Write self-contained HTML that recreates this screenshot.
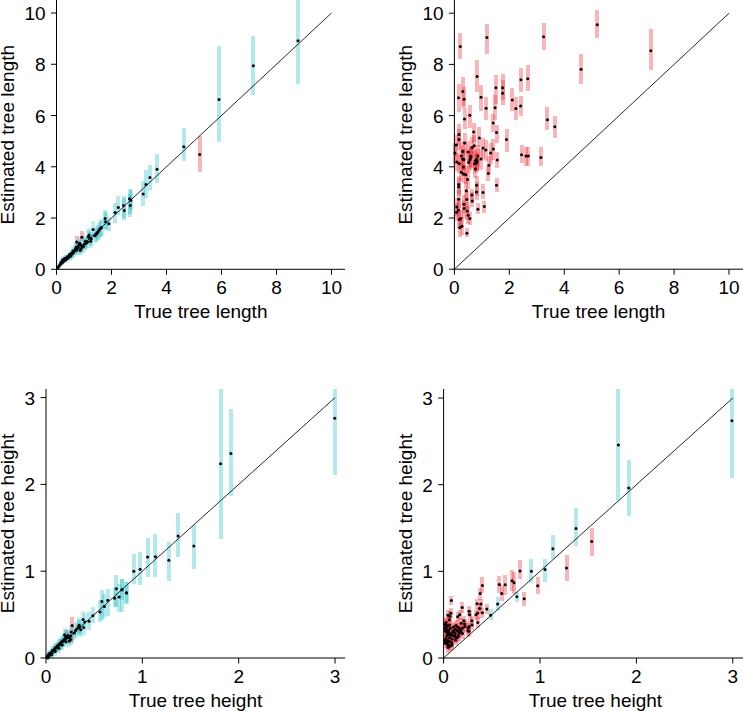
<!DOCTYPE html>
<html><head><meta charset="utf-8"><title>Tree length and height estimates</title>
<style>html,body{margin:0;padding:0;background:#fff;}svg{display:block;}text{font-family:"Liberation Sans",sans-serif;}</style>
</head><body>
<svg width="743" height="711" viewBox="0 0 743 711">
<rect width="743" height="711" fill="#fff"/>
<g shape-rendering="crispEdges">
<rect x="296.00" y="0.00" width="4" height="84.40" fill="rgba(0,182,192,0.30)"/>
<rect x="251.30" y="35.90" width="4" height="58.60" fill="rgba(0,182,192,0.30)"/>
<rect x="217.00" y="45.50" width="4" height="96.70" fill="rgba(0,182,192,0.30)"/>
<rect x="181.80" y="128.30" width="4" height="32.60" fill="rgba(0,182,192,0.30)"/>
<rect x="197.70" y="136.00" width="4" height="35.50" fill="rgba(236,30,40,0.33)"/>
<rect x="155.00" y="153.80" width="4" height="29.50" fill="rgba(0,182,192,0.30)"/>
<rect x="148.00" y="165.20" width="4" height="24.50" fill="rgba(0,182,192,0.30)"/>
<rect x="144.00" y="170.30" width="4" height="27.80" fill="rgba(0,182,192,0.30)"/>
<rect x="141.20" y="180.80" width="4" height="25.30" fill="rgba(0,182,192,0.30)"/>
<rect x="127.50" y="188.90" width="4" height="27.80" fill="rgba(0,182,192,0.30)"/>
<rect x="128.80" y="190.00" width="4" height="20.00" fill="rgba(0,182,192,0.30)"/>
<rect x="128.20" y="194.00" width="4" height="20.00" fill="rgba(0,182,192,0.30)"/>
<rect x="121.50" y="195.60" width="4" height="22.80" fill="rgba(0,182,192,0.30)"/>
<rect x="122.30" y="198.00" width="4" height="22.00" fill="rgba(0,182,192,0.30)"/>
<rect x="116.40" y="195.90" width="4" height="19.10" fill="rgba(0,182,192,0.30)"/>
<rect x="113.10" y="203.20" width="4" height="19.40" fill="rgba(0,182,192,0.30)"/>
<rect x="103.10" y="209.90" width="4" height="18.60" fill="rgba(0,182,192,0.30)"/>
<rect x="103.50" y="212.00" width="4" height="18.00" fill="rgba(0,182,192,0.30)"/>
<rect x="106.80" y="216.70" width="4" height="14.30" fill="rgba(0,182,192,0.30)"/>
<rect x="74.70" y="236.20" width="4" height="9.30" fill="rgba(236,30,40,0.33)"/>
<rect x="79.80" y="230.70" width="4" height="10.50" fill="rgba(236,30,40,0.33)"/>
<rect x="91.00" y="221.08" width="4" height="16.64" fill="rgba(0,182,192,0.22)"/>
<rect x="97.80" y="220.61" width="4" height="16.78" fill="rgba(0,182,192,0.22)"/>
<rect x="96.80" y="222.60" width="4" height="16.20" fill="rgba(0,182,192,0.22)"/>
<rect x="95.70" y="224.59" width="4" height="15.62" fill="rgba(0,182,192,0.22)"/>
<rect x="94.70" y="226.11" width="4" height="15.18" fill="rgba(0,182,192,0.22)"/>
<rect x="93.70" y="227.75" width="4" height="14.70" fill="rgba(0,182,192,0.22)"/>
<rect x="92.70" y="228.57" width="4" height="14.47" fill="rgba(0,182,192,0.22)"/>
<rect x="87.00" y="227.75" width="4" height="14.70" fill="rgba(0,182,192,0.22)"/>
<rect x="86.30" y="229.74" width="4" height="14.13" fill="rgba(0,182,192,0.22)"/>
<rect x="87.70" y="231.26" width="4" height="13.68" fill="rgba(0,182,192,0.22)"/>
<rect x="89.30" y="232.08" width="4" height="13.45" fill="rgba(0,182,192,0.22)"/>
<rect x="88.70" y="234.89" width="4" height="12.63" fill="rgba(0,182,192,0.22)"/>
<rect x="85.60" y="235.59" width="4" height="12.43" fill="rgba(0,182,192,0.22)"/>
<rect x="84.30" y="237.23" width="4" height="11.95" fill="rgba(0,182,192,0.22)"/>
<rect x="83.30" y="234.89" width="4" height="12.63" fill="rgba(0,182,192,0.22)"/>
<rect x="77.60" y="237.23" width="4" height="11.95" fill="rgba(0,182,192,0.22)"/>
<rect x="76.90" y="239.57" width="4" height="11.27" fill="rgba(0,182,192,0.22)"/>
<rect x="81.60" y="240.74" width="4" height="10.93" fill="rgba(0,182,192,0.22)"/>
<rect x="80.30" y="241.91" width="4" height="10.59" fill="rgba(0,182,192,0.22)"/>
<rect x="78.20" y="245.88" width="4" height="9.43" fill="rgba(0,182,192,0.22)"/>
<rect x="78.60" y="244.25" width="4" height="9.91" fill="rgba(0,182,192,0.22)"/>
<rect x="74.20" y="241.91" width="4" height="10.59" fill="rgba(0,182,192,0.22)"/>
<rect x="74.90" y="245.06" width="4" height="9.67" fill="rgba(0,182,192,0.22)"/>
<rect x="72.90" y="245.88" width="4" height="9.43" fill="rgba(0,182,192,0.22)"/>
<rect x="71.50" y="248.22" width="4" height="8.75" fill="rgba(0,182,192,0.22)"/>
<rect x="70.20" y="249.74" width="4" height="8.31" fill="rgba(0,182,192,0.22)"/>
<rect x="68.80" y="252.20" width="4" height="7.60" fill="rgba(0,182,192,0.22)"/>
<rect x="67.50" y="252.90" width="4" height="7.39" fill="rgba(0,182,192,0.22)"/>
<rect x="66.10" y="254.54" width="4" height="6.92" fill="rgba(0,182,192,0.22)"/>
<rect x="64.40" y="256.06" width="4" height="6.48" fill="rgba(0,182,192,0.22)"/>
<rect x="63.10" y="256.88" width="4" height="6.24" fill="rgba(0,182,192,0.22)"/>
<rect x="61.40" y="258.40" width="4" height="5.80" fill="rgba(0,182,192,0.22)"/>
<rect x="60.10" y="260.04" width="4" height="5.32" fill="rgba(0,182,192,0.22)"/>
<rect x="58.70" y="261.56" width="4" height="4.88" fill="rgba(0,182,192,0.22)"/>
<rect x="57.40" y="263.20" width="4" height="4.40" fill="rgba(0,182,192,0.22)"/>
<rect x="56.40" y="264.72" width="4" height="3.96" fill="rgba(0,182,192,0.22)"/>
<rect x="55.70" y="266.36" width="4" height="2.94" fill="rgba(0,182,192,0.22)"/>
<rect x="65.50" y="252.90" width="4" height="7.39" fill="rgba(0,182,192,0.22)"/>
<rect x="64.10" y="254.54" width="4" height="6.92" fill="rgba(0,182,192,0.22)"/>
<rect x="62.80" y="255.24" width="4" height="6.71" fill="rgba(0,182,192,0.22)"/>
<rect x="67.50" y="250.56" width="4" height="8.07" fill="rgba(0,182,192,0.22)"/>
<rect x="69.50" y="249.04" width="4" height="8.52" fill="rgba(0,182,192,0.22)"/>
<rect x="60.10" y="257.70" width="4" height="6.00" fill="rgba(0,182,192,0.22)"/>
<rect x="58.70" y="260.04" width="4" height="5.32" fill="rgba(0,182,192,0.22)"/>
<rect x="61.40" y="256.06" width="4" height="6.48" fill="rgba(0,182,192,0.22)"/>
<rect x="71.00" y="246.35" width="4" height="9.30" fill="rgba(0,182,192,0.22)"/>
<rect x="73.50" y="244.01" width="4" height="9.98" fill="rgba(0,182,192,0.22)"/>
<rect x="75.80" y="242.26" width="4" height="10.49" fill="rgba(0,182,192,0.22)"/>
<rect x="79.00" y="239.33" width="4" height="11.34" fill="rgba(0,182,192,0.22)"/>
<rect x="82.50" y="238.16" width="4" height="11.68" fill="rgba(0,182,192,0.22)"/>
<rect x="99.50" y="218.86" width="4" height="17.29" fill="rgba(0,182,192,0.22)"/>
<rect x="98.70" y="219.79" width="4" height="17.02" fill="rgba(0,182,192,0.22)"/>
<rect x="595.30" y="9.50" width="4" height="28.80" fill="rgba(236,30,40,0.33)"/>
<rect x="648.80" y="29.40" width="4" height="41.00" fill="rgba(236,30,40,0.33)"/>
<rect x="579.10" y="53.60" width="4" height="30.10" fill="rgba(236,30,40,0.33)"/>
<rect x="541.60" y="23.00" width="4" height="27.00" fill="rgba(236,30,40,0.33)"/>
<rect x="484.90" y="23.60" width="4" height="30.00" fill="rgba(236,30,40,0.33)"/>
<rect x="458.30" y="33.30" width="4" height="25.20" fill="rgba(236,30,40,0.33)"/>
<rect x="475.10" y="60.40" width="4" height="31.50" fill="rgba(236,30,40,0.33)"/>
<rect x="518.90" y="68.00" width="4" height="23.60" fill="rgba(236,30,40,0.33)"/>
<rect x="525.70" y="64.60" width="4" height="26.50" fill="rgba(236,30,40,0.33)"/>
<rect x="545.40" y="107.30" width="4" height="23.10" fill="rgba(236,30,40,0.33)"/>
<rect x="552.80" y="115.50" width="4" height="22.80" fill="rgba(236,30,40,0.33)"/>
<rect x="538.90" y="146.70" width="4" height="19.70" fill="rgba(236,30,40,0.33)"/>
<rect x="519.50" y="144.90" width="4" height="18.50" fill="rgba(236,30,40,0.33)"/>
<rect x="524.00" y="146.60" width="4" height="19.10" fill="rgba(236,30,40,0.33)"/>
<rect x="526.30" y="146.60" width="4" height="19.10" fill="rgba(236,30,40,0.33)"/>
<rect x="493.90" y="75.00" width="4" height="29.00" fill="rgba(236,30,40,0.33)"/>
<rect x="493.10" y="95.00" width="4" height="24.80" fill="rgba(236,30,40,0.33)"/>
<rect x="500.60" y="74.20" width="4" height="25.80" fill="rgba(236,30,40,0.33)"/>
<rect x="500.60" y="80.00" width="4" height="24.60" fill="rgba(236,30,40,0.33)"/>
<rect x="510.30" y="88.30" width="4" height="22.50" fill="rgba(236,30,40,0.33)"/>
<rect x="513.90" y="97.30" width="4" height="22.50" fill="rgba(236,30,40,0.33)"/>
<rect x="518.60" y="95.60" width="4" height="20.80" fill="rgba(236,30,40,0.33)"/>
<rect x="456.50" y="84.00" width="4" height="28.40" fill="rgba(236,30,40,0.33)"/>
<rect x="460.80" y="77.00" width="4" height="29.00" fill="rgba(236,30,40,0.33)"/>
<rect x="462.10" y="87.10" width="4" height="21.40" fill="rgba(236,30,40,0.33)"/>
<rect x="462.50" y="109.00" width="4" height="19.80" fill="rgba(236,30,40,0.33)"/>
<rect x="467.80" y="105.10" width="4" height="22.50" fill="rgba(236,30,40,0.33)"/>
<rect x="479.00" y="84.90" width="4" height="25.90" fill="rgba(236,30,40,0.33)"/>
<rect x="484.10" y="97.30" width="4" height="23.00" fill="rgba(236,30,40,0.33)"/>
<rect x="491.20" y="114.10" width="4" height="17.90" fill="rgba(236,30,40,0.33)"/>
<rect x="494.50" y="124.60" width="4" height="18.00" fill="rgba(236,30,40,0.33)"/>
<rect x="471.70" y="123.10" width="4" height="18.40" fill="rgba(236,30,40,0.33)"/>
<rect x="477.40" y="126.90" width="4" height="20.20" fill="rgba(236,30,40,0.33)"/>
<rect x="504.50" y="128.60" width="4" height="23.00" fill="rgba(236,30,40,0.33)"/>
<rect x="495.30" y="152.20" width="4" height="15.80" fill="rgba(236,30,40,0.33)"/>
<rect x="486.30" y="166.00" width="4" height="15.00" fill="rgba(236,30,40,0.33)"/>
<rect x="494.50" y="178.40" width="4" height="13.50" fill="rgba(236,30,40,0.33)"/>
<rect x="474.60" y="176.00" width="4" height="20.00" fill="rgba(236,30,40,0.33)"/>
<rect x="474.50" y="182.00" width="4" height="18.00" fill="rgba(236,30,40,0.33)"/>
<rect x="481.00" y="184.10" width="4" height="14.60" fill="rgba(236,30,40,0.33)"/>
<rect x="469.80" y="188.60" width="4" height="14.40" fill="rgba(236,30,40,0.33)"/>
<rect x="470.20" y="192.00" width="4" height="15.10" fill="rgba(236,30,40,0.33)"/>
<rect x="482.40" y="200.90" width="4" height="11.90" fill="rgba(236,30,40,0.33)"/>
<rect x="475.90" y="203.20" width="4" height="11.20" fill="rgba(236,30,40,0.33)"/>
<rect x="467.80" y="212.00" width="4" height="12.60" fill="rgba(236,30,40,0.33)"/>
<rect x="464.90" y="228.00" width="4" height="9.00" fill="rgba(236,30,40,0.33)"/>
<rect x="457.00" y="123.90" width="4" height="21.00" fill="rgba(236,30,40,0.33)"/>
<rect x="457.00" y="129.00" width="4" height="21.00" fill="rgba(236,30,40,0.33)"/>
<rect x="462.60" y="132.60" width="4" height="21.00" fill="rgba(236,30,40,0.33)"/>
<rect x="454.30" y="134.60" width="4" height="21.00" fill="rgba(236,30,40,0.33)"/>
<rect x="472.30" y="135.30" width="4" height="21.00" fill="rgba(236,30,40,0.33)"/>
<rect x="470.10" y="136.90" width="4" height="21.00" fill="rgba(236,30,40,0.33)"/>
<rect x="481.00" y="137.50" width="4" height="21.00" fill="rgba(236,30,40,0.33)"/>
<rect x="483.80" y="139.50" width="4" height="21.00" fill="rgba(236,30,40,0.33)"/>
<rect x="491.40" y="138.60" width="4" height="21.00" fill="rgba(236,30,40,0.33)"/>
<rect x="488.60" y="142.60" width="4" height="21.00" fill="rgba(236,30,40,0.33)"/>
<rect x="460.70" y="140.90" width="4" height="21.00" fill="rgba(236,30,40,0.33)"/>
<rect x="466.10" y="141.40" width="4" height="21.00" fill="rgba(236,30,40,0.33)"/>
<rect x="452.80" y="142.60" width="4" height="21.00" fill="rgba(236,30,40,0.33)"/>
<rect x="459.30" y="145.40" width="4" height="21.00" fill="rgba(236,30,40,0.33)"/>
<rect x="468.60" y="145.70" width="4" height="21.00" fill="rgba(236,30,40,0.33)"/>
<rect x="468.90" y="147.10" width="4" height="21.00" fill="rgba(236,30,40,0.33)"/>
<rect x="475.90" y="145.40" width="4" height="21.00" fill="rgba(236,30,40,0.33)"/>
<rect x="460.70" y="148.50" width="4" height="21.00" fill="rgba(236,30,40,0.33)"/>
<rect x="461.80" y="149.00" width="4" height="21.00" fill="rgba(236,30,40,0.33)"/>
<rect x="468.00" y="149.30" width="4" height="21.00" fill="rgba(236,30,40,0.33)"/>
<rect x="474.50" y="148.80" width="4" height="21.00" fill="rgba(236,30,40,0.33)"/>
<rect x="473.40" y="151.40" width="4" height="18.00" fill="rgba(236,30,40,0.33)"/>
<rect x="475.10" y="152.50" width="4" height="18.00" fill="rgba(236,30,40,0.33)"/>
<rect x="479.00" y="148.50" width="4" height="21.00" fill="rgba(236,30,40,0.33)"/>
<rect x="466.60" y="153.60" width="4" height="18.00" fill="rgba(236,30,40,0.33)"/>
<rect x="454.80" y="153.10" width="4" height="18.00" fill="rgba(236,30,40,0.33)"/>
<rect x="457.10" y="154.50" width="4" height="18.00" fill="rgba(236,30,40,0.33)"/>
<rect x="472.50" y="154.80" width="4" height="18.00" fill="rgba(236,30,40,0.33)"/>
<rect x="474.50" y="153.90" width="4" height="18.00" fill="rgba(236,30,40,0.33)"/>
<rect x="486.90" y="156.20" width="4" height="18.00" fill="rgba(236,30,40,0.33)"/>
<rect x="461.30" y="158.10" width="4" height="18.00" fill="rgba(236,30,40,0.33)"/>
<rect x="473.40" y="160.10" width="4" height="18.00" fill="rgba(236,30,40,0.33)"/>
<rect x="459.30" y="163.30" width="4" height="18.00" fill="rgba(236,30,40,0.33)"/>
<rect x="461.60" y="164.90" width="4" height="18.00" fill="rgba(236,30,40,0.33)"/>
<rect x="463.80" y="165.70" width="4" height="18.00" fill="rgba(236,30,40,0.33)"/>
<rect x="465.50" y="170.60" width="4" height="18.00" fill="rgba(236,30,40,0.33)"/>
<rect x="456.70" y="175.60" width="4" height="18.00" fill="rgba(236,30,40,0.33)"/>
<rect x="456.70" y="177.90" width="4" height="18.00" fill="rgba(236,30,40,0.33)"/>
<rect x="464.40" y="181.80" width="4" height="18.00" fill="rgba(236,30,40,0.33)"/>
<rect x="456.70" y="190.30" width="4" height="18.00" fill="rgba(236,30,40,0.33)"/>
<rect x="464.90" y="190.50" width="4" height="18.00" fill="rgba(236,30,40,0.33)"/>
<rect x="461.90" y="195.30" width="4" height="18.00" fill="rgba(236,30,40,0.33)"/>
<rect x="462.10" y="199.50" width="4" height="18.00" fill="rgba(236,30,40,0.33)"/>
<rect x="454.80" y="198.10" width="4" height="18.00" fill="rgba(236,30,40,0.33)"/>
<rect x="456.50" y="200.90" width="4" height="18.00" fill="rgba(236,30,40,0.33)"/>
<rect x="454.50" y="203.20" width="4" height="18.00" fill="rgba(236,30,40,0.33)"/>
<rect x="465.30" y="202.10" width="4" height="18.00" fill="rgba(236,30,40,0.33)"/>
<rect x="466.10" y="206.20" width="4" height="18.00" fill="rgba(236,30,40,0.33)"/>
<rect x="458.80" y="209.60" width="4" height="18.00" fill="rgba(236,30,40,0.33)"/>
<rect x="457.40" y="210.50" width="4" height="18.00" fill="rgba(236,30,40,0.33)"/>
<rect x="459.90" y="217.30" width="4" height="18.00" fill="rgba(236,30,40,0.33)"/>
<rect x="457.90" y="218.60" width="4" height="18.00" fill="rgba(236,30,40,0.33)"/>
<rect x="218.60" y="388.90" width="4" height="150.10" fill="rgba(0,182,192,0.30)"/>
<rect x="228.90" y="408.70" width="4" height="87.30" fill="rgba(0,182,192,0.30)"/>
<rect x="332.70" y="388.90" width="4" height="85.60" fill="rgba(0,182,192,0.30)"/>
<rect x="176.10" y="513.40" width="4" height="43.60" fill="rgba(0,182,192,0.30)"/>
<rect x="191.80" y="525.30" width="4" height="43.60" fill="rgba(0,182,192,0.30)"/>
<rect x="166.80" y="541.50" width="4" height="39.80" fill="rgba(0,182,192,0.30)"/>
<rect x="153.40" y="534.20" width="4" height="42.90" fill="rgba(0,182,192,0.30)"/>
<rect x="145.60" y="537.70" width="4" height="39.70" fill="rgba(0,182,192,0.30)"/>
<rect x="138.10" y="552.00" width="4" height="32.80" fill="rgba(0,182,192,0.30)"/>
<rect x="131.80" y="554.10" width="4" height="30.00" fill="rgba(0,182,192,0.30)"/>
<rect x="120.10" y="578.80" width="4" height="21.20" fill="rgba(0,182,192,0.30)"/>
<rect x="124.30" y="581.60" width="4" height="22.40" fill="rgba(0,182,192,0.30)"/>
<rect x="114.30" y="575.20" width="4" height="32.10" fill="rgba(0,182,192,0.30)"/>
<rect x="119.90" y="579.10" width="4" height="32.70" fill="rgba(0,182,192,0.30)"/>
<rect x="124.60" y="582.00" width="4" height="20.80" fill="rgba(0,182,192,0.30)"/>
<rect x="112.60" y="587.00" width="4" height="20.00" fill="rgba(0,182,192,0.30)"/>
<rect x="117.10" y="584.00" width="4" height="27.80" fill="rgba(0,182,192,0.30)"/>
<rect x="99.90" y="590.40" width="4" height="29.20" fill="rgba(0,182,192,0.30)"/>
<rect x="105.80" y="589.30" width="4" height="27.00" fill="rgba(0,182,192,0.30)"/>
<rect x="102.40" y="594.00" width="4" height="24.00" fill="rgba(0,182,192,0.30)"/>
<rect x="98.00" y="600.00" width="4" height="22.00" fill="rgba(0,182,192,0.30)"/>
<rect x="90.90" y="607.00" width="4" height="16.00" fill="rgba(0,182,192,0.30)"/>
<rect x="87.00" y="612.00" width="4" height="18.00" fill="rgba(0,182,192,0.30)"/>
<rect x="70.10" y="617.00" width="4" height="26.00" fill="rgba(236,30,40,0.33)"/>
<rect x="63.80" y="630.00" width="4" height="12.00" fill="rgba(236,30,40,0.33)"/>
<rect x="81.10" y="610.57" width="4" height="17.66" fill="rgba(0,182,192,0.22)"/>
<rect x="82.80" y="613.45" width="4" height="16.91" fill="rgba(0,182,192,0.22)"/>
<rect x="77.10" y="617.36" width="4" height="15.89" fill="rgba(0,182,192,0.22)"/>
<rect x="77.70" y="619.89" width="4" height="15.23" fill="rgba(0,182,192,0.22)"/>
<rect x="78.80" y="622.53" width="4" height="14.54" fill="rgba(0,182,192,0.22)"/>
<rect x="81.60" y="619.89" width="4" height="15.23" fill="rgba(0,182,192,0.22)"/>
<rect x="76.60" y="618.62" width="4" height="15.56" fill="rgba(0,182,192,0.22)"/>
<rect x="69.30" y="625.06" width="4" height="13.88" fill="rgba(0,182,192,0.22)"/>
<rect x="72.40" y="626.10" width="4" height="13.61" fill="rgba(0,182,192,0.22)"/>
<rect x="62.50" y="628.28" width="4" height="13.04" fill="rgba(0,182,192,0.22)"/>
<rect x="64.80" y="630.24" width="4" height="12.53" fill="rgba(0,182,192,0.22)"/>
<rect x="67.00" y="631.50" width="4" height="12.20" fill="rgba(0,182,192,0.22)"/>
<rect x="68.70" y="629.66" width="4" height="12.68" fill="rgba(0,182,192,0.22)"/>
<rect x="68.70" y="633.69" width="4" height="11.63" fill="rgba(0,182,192,0.22)"/>
<rect x="67.30" y="635.41" width="4" height="11.18" fill="rgba(0,182,192,0.22)"/>
<rect x="45.00" y="653.24" width="4" height="4.76" fill="rgba(0,182,192,0.22)"/>
<rect x="46.50" y="651.51" width="4" height="6.49" fill="rgba(0,182,192,0.22)"/>
<rect x="48.00" y="649.79" width="4" height="7.43" fill="rgba(0,182,192,0.22)"/>
<rect x="49.50" y="648.06" width="4" height="7.88" fill="rgba(0,182,192,0.22)"/>
<rect x="51.00" y="645.99" width="4" height="8.42" fill="rgba(0,182,192,0.22)"/>
<rect x="52.50" y="644.27" width="4" height="8.87" fill="rgba(0,182,192,0.22)"/>
<rect x="54.00" y="642.66" width="4" height="9.29" fill="rgba(0,182,192,0.22)"/>
<rect x="55.50" y="640.93" width="4" height="9.74" fill="rgba(0,182,192,0.22)"/>
<rect x="57.00" y="639.44" width="4" height="10.13" fill="rgba(0,182,192,0.22)"/>
<rect x="58.50" y="637.71" width="4" height="10.58" fill="rgba(0,182,192,0.22)"/>
<rect x="60.00" y="635.99" width="4" height="11.03" fill="rgba(0,182,192,0.22)"/>
<rect x="61.50" y="634.26" width="4" height="11.48" fill="rgba(0,182,192,0.22)"/>
<rect x="63.00" y="632.54" width="4" height="11.93" fill="rgba(0,182,192,0.22)"/>
<rect x="64.50" y="631.73" width="4" height="12.14" fill="rgba(0,182,192,0.22)"/>
<rect x="66.00" y="629.09" width="4" height="12.83" fill="rgba(0,182,192,0.22)"/>
<rect x="47.00" y="652.66" width="4" height="5.34" fill="rgba(0,182,192,0.22)"/>
<rect x="50.00" y="649.21" width="4" height="7.58" fill="rgba(0,182,192,0.22)"/>
<rect x="53.00" y="645.76" width="4" height="8.48" fill="rgba(0,182,192,0.22)"/>
<rect x="56.00" y="642.31" width="4" height="9.38" fill="rgba(0,182,192,0.22)"/>
<rect x="59.00" y="639.44" width="4" height="10.13" fill="rgba(0,182,192,0.22)"/>
<rect x="73.50" y="623.34" width="4" height="14.33" fill="rgba(0,182,192,0.22)"/>
<rect x="75.00" y="621.38" width="4" height="14.84" fill="rgba(0,182,192,0.22)"/>
<rect x="45.90" y="654.96" width="4" height="3.04" fill="rgba(0,182,192,0.22)"/>
<rect x="47.00" y="650.02" width="4" height="7.37" fill="rgba(0,182,192,0.22)"/>
<rect x="49.50" y="651.28" width="4" height="6.72" fill="rgba(0,182,192,0.22)"/>
<rect x="50.60" y="646.34" width="4" height="8.33" fill="rgba(0,182,192,0.22)"/>
<rect x="53.10" y="647.60" width="4" height="8.00" fill="rgba(0,182,192,0.22)"/>
<rect x="54.20" y="642.54" width="4" height="9.32" fill="rgba(0,182,192,0.22)"/>
<rect x="56.70" y="643.81" width="4" height="8.99" fill="rgba(0,182,192,0.22)"/>
<rect x="57.80" y="638.86" width="4" height="10.28" fill="rgba(0,182,192,0.22)"/>
<rect x="60.30" y="640.13" width="4" height="9.95" fill="rgba(0,182,192,0.22)"/>
<rect x="61.40" y="635.18" width="4" height="11.24" fill="rgba(0,182,192,0.22)"/>
<rect x="63.90" y="636.33" width="4" height="10.94" fill="rgba(0,182,192,0.22)"/>
<rect x="616.40" y="389.00" width="4" height="112.00" fill="rgba(0,182,192,0.30)"/>
<rect x="626.70" y="459.80" width="4" height="56.10" fill="rgba(0,182,192,0.30)"/>
<rect x="729.90" y="389.00" width="4" height="88.80" fill="rgba(0,182,192,0.30)"/>
<rect x="574.00" y="508.20" width="4" height="37.80" fill="rgba(0,182,192,0.30)"/>
<rect x="589.70" y="528.00" width="4" height="28.30" fill="rgba(236,30,40,0.33)"/>
<rect x="550.90" y="534.80" width="4" height="23.90" fill="rgba(0,182,192,0.30)"/>
<rect x="564.50" y="554.50" width="4" height="26.30" fill="rgba(236,30,40,0.33)"/>
<rect x="543.00" y="559.10" width="4" height="22.80" fill="rgba(0,182,192,0.30)"/>
<rect x="529.40" y="559.40" width="4" height="23.20" fill="rgba(0,182,192,0.30)"/>
<rect x="518.00" y="559.80" width="4" height="19.30" fill="rgba(236,30,40,0.33)"/>
<rect x="535.70" y="577.00" width="4" height="16.80" fill="rgba(236,30,40,0.33)"/>
<rect x="522.20" y="592.00" width="4" height="13.80" fill="rgba(236,30,40,0.33)"/>
<rect x="514.90" y="591.70" width="4" height="10.60" fill="rgba(0,182,192,0.30)"/>
<rect x="510.00" y="569.90" width="4" height="21.10" fill="rgba(236,30,40,0.33)"/>
<rect x="512.10" y="572.00" width="4" height="21.80" fill="rgba(236,30,40,0.33)"/>
<rect x="503.20" y="574.90" width="4" height="19.60" fill="rgba(236,30,40,0.33)"/>
<rect x="499.70" y="584.70" width="4" height="16.20" fill="rgba(236,30,40,0.33)"/>
<rect x="497.30" y="576.00" width="4" height="17.00" fill="rgba(236,30,40,0.33)"/>
<rect x="480.40" y="577.40" width="4" height="15.70" fill="rgba(236,30,40,0.33)"/>
<rect x="478.20" y="588.00" width="4" height="12.00" fill="rgba(236,30,40,0.33)"/>
<rect x="449.40" y="596.10" width="4" height="8.90" fill="rgba(236,30,40,0.33)"/>
<rect x="495.60" y="596.60" width="4" height="14.80" fill="rgba(0,182,192,0.30)"/>
<rect x="488.60" y="609.40" width="4" height="10.80" fill="rgba(0,182,192,0.30)"/>
<rect x="484.80" y="604.00" width="4" height="10.30" fill="rgba(236,30,40,0.33)"/>
<rect x="460.20" y="601.50" width="4" height="11.80" fill="rgba(236,30,40,0.33)"/>
<rect x="475.00" y="598.50" width="4" height="10.40" fill="rgba(236,30,40,0.33)"/>
<rect x="478.90" y="598.80" width="4" height="10.40" fill="rgba(236,30,40,0.33)"/>
<rect x="477.60" y="603.40" width="4" height="10.40" fill="rgba(236,30,40,0.33)"/>
<rect x="480.40" y="607.60" width="4" height="10.40" fill="rgba(236,30,40,0.33)"/>
<rect x="475.50" y="608.10" width="4" height="10.40" fill="rgba(236,30,40,0.33)"/>
<rect x="474.00" y="609.60" width="4" height="10.40" fill="rgba(236,30,40,0.33)"/>
<rect x="475.70" y="617.20" width="4" height="10.40" fill="rgba(236,30,40,0.33)"/>
<rect x="467.10" y="606.00" width="4" height="10.40" fill="rgba(236,30,40,0.33)"/>
<rect x="467.60" y="609.60" width="4" height="10.40" fill="rgba(236,30,40,0.33)"/>
<rect x="448.90" y="608.10" width="4" height="10.40" fill="rgba(236,30,40,0.33)"/>
<rect x="445.90" y="610.10" width="4" height="10.40" fill="rgba(236,30,40,0.33)"/>
<rect x="447.90" y="611.10" width="4" height="10.40" fill="rgba(236,30,40,0.33)"/>
<rect x="447.40" y="614.50" width="4" height="10.40" fill="rgba(236,30,40,0.33)"/>
<rect x="457.70" y="609.60" width="4" height="10.40" fill="rgba(236,30,40,0.33)"/>
<rect x="455.60" y="611.60" width="4" height="10.40" fill="rgba(236,30,40,0.33)"/>
<rect x="461.70" y="615.50" width="4" height="10.40" fill="rgba(236,30,40,0.33)"/>
<rect x="459.20" y="618.00" width="4" height="10.40" fill="rgba(236,30,40,0.33)"/>
<rect x="462.70" y="618.80" width="4" height="10.40" fill="rgba(236,30,40,0.33)"/>
<rect x="469.80" y="615.50" width="4" height="10.40" fill="rgba(236,30,40,0.33)"/>
<rect x="470.00" y="619.90" width="4" height="10.40" fill="rgba(236,30,40,0.33)"/>
<rect x="467.10" y="621.40" width="4" height="10.40" fill="rgba(236,30,40,0.33)"/>
<rect x="466.30" y="622.70" width="4" height="10.40" fill="rgba(236,30,40,0.33)"/>
<rect x="465.90" y="625.60" width="4" height="10.40" fill="rgba(236,30,40,0.33)"/>
<rect x="467.10" y="626.10" width="4" height="10.40" fill="rgba(236,30,40,0.33)"/>
<rect x="444.90" y="620.40" width="4" height="10.40" fill="rgba(236,30,40,0.33)"/>
<rect x="443.50" y="622.90" width="4" height="10.40" fill="rgba(236,30,40,0.33)"/>
<rect x="447.70" y="619.70" width="4" height="10.40" fill="rgba(236,30,40,0.33)"/>
<rect x="445.20" y="621.00" width="4" height="10.40" fill="rgba(236,30,40,0.33)"/>
<rect x="443.10" y="622.70" width="4" height="10.40" fill="rgba(236,30,40,0.33)"/>
<rect x="454.00" y="620.30" width="4" height="10.40" fill="rgba(236,30,40,0.33)"/>
<rect x="455.70" y="621.80" width="4" height="10.40" fill="rgba(236,30,40,0.33)"/>
<rect x="457.40" y="623.10" width="4" height="10.40" fill="rgba(236,30,40,0.33)"/>
<rect x="453.20" y="624.00" width="4" height="10.40" fill="rgba(236,30,40,0.33)"/>
<rect x="454.90" y="625.20" width="4" height="10.40" fill="rgba(236,30,40,0.33)"/>
<rect x="451.90" y="625.60" width="4" height="10.40" fill="rgba(236,30,40,0.33)"/>
<rect x="458.30" y="626.80" width="4" height="10.40" fill="rgba(236,30,40,0.33)"/>
<rect x="457.00" y="627.80" width="4" height="10.40" fill="rgba(236,30,40,0.33)"/>
<rect x="450.70" y="626.90" width="4" height="10.40" fill="rgba(236,30,40,0.33)"/>
<rect x="449.00" y="628.20" width="4" height="10.40" fill="rgba(236,30,40,0.33)"/>
<rect x="446.40" y="627.30" width="4" height="10.40" fill="rgba(236,30,40,0.33)"/>
<rect x="444.80" y="626.90" width="4" height="10.40" fill="rgba(236,30,40,0.33)"/>
<rect x="446.00" y="629.40" width="4" height="10.40" fill="rgba(236,30,40,0.33)"/>
<rect x="445.20" y="630.30" width="4" height="10.40" fill="rgba(236,30,40,0.33)"/>
<rect x="448.10" y="629.80" width="4" height="10.40" fill="rgba(236,30,40,0.33)"/>
<rect x="452.80" y="631.10" width="4" height="10.40" fill="rgba(236,30,40,0.33)"/>
<rect x="455.70" y="632.00" width="4" height="10.40" fill="rgba(236,30,40,0.33)"/>
<rect x="454.40" y="632.40" width="4" height="10.40" fill="rgba(236,30,40,0.33)"/>
<rect x="450.20" y="633.70" width="4" height="10.40" fill="rgba(236,30,40,0.33)"/>
<rect x="445.60" y="635.30" width="4" height="10.40" fill="rgba(236,30,40,0.33)"/>
<rect x="443.10" y="637.90" width="4" height="10.40" fill="rgba(236,30,40,0.33)"/>
<rect x="444.80" y="638.70" width="4" height="10.40" fill="rgba(236,30,40,0.33)"/>
<rect x="446.40" y="639.60" width="4" height="10.40" fill="rgba(236,30,40,0.33)"/>
<rect x="448.10" y="640.80" width="4" height="10.40" fill="rgba(236,30,40,0.33)"/>
<rect x="449.80" y="637.50" width="4" height="10.40" fill="rgba(236,30,40,0.33)"/>
<rect x="460.50" y="622.80" width="4" height="10.40" fill="rgba(236,30,40,0.33)"/>
<rect x="463.00" y="621.30" width="4" height="10.40" fill="rgba(236,30,40,0.33)"/>
<rect x="443.50" y="625.80" width="4" height="10.40" fill="rgba(236,30,40,0.33)"/>
<rect x="444.50" y="624.30" width="4" height="10.40" fill="rgba(236,30,40,0.33)"/>
<rect x="451.50" y="621.80" width="4" height="10.40" fill="rgba(236,30,40,0.33)"/>
<rect x="453.00" y="628.30" width="4" height="10.40" fill="rgba(236,30,40,0.33)"/>
<rect x="456.00" y="625.80" width="4" height="10.40" fill="rgba(236,30,40,0.33)"/>
<rect x="459.00" y="625.30" width="4" height="10.40" fill="rgba(236,30,40,0.33)"/>
<rect x="460.50" y="628.30" width="4" height="10.40" fill="rgba(236,30,40,0.33)"/>
<rect x="447.00" y="624.80" width="4" height="10.40" fill="rgba(236,30,40,0.33)"/>
<rect x="448.50" y="622.80" width="4" height="10.40" fill="rgba(236,30,40,0.33)"/>
<rect x="450.50" y="630.30" width="4" height="10.40" fill="rgba(236,30,40,0.33)"/>
<rect x="447.50" y="632.60" width="4" height="10.40" fill="rgba(236,30,40,0.33)"/>
<rect x="444.00" y="632.80" width="4" height="10.40" fill="rgba(236,30,40,0.33)"/>
<rect x="442.80" y="635.00" width="4" height="10.40" fill="rgba(236,30,40,0.33)"/>
<rect x="445.50" y="636.80" width="4" height="10.40" fill="rgba(236,30,40,0.33)"/>
<rect x="447.50" y="636.30" width="4" height="10.40" fill="rgba(236,30,40,0.33)"/>
<rect x="450.00" y="639.80" width="4" height="10.40" fill="rgba(236,30,40,0.33)"/>
<rect x="446.20" y="642.10" width="4" height="10.40" fill="rgba(236,30,40,0.33)"/>
<rect x="453.50" y="634.80" width="4" height="10.40" fill="rgba(236,30,40,0.33)"/>
<rect x="456.50" y="630.30" width="4" height="10.40" fill="rgba(236,30,40,0.33)"/>
<rect x="442.80" y="619.30" width="4" height="10.40" fill="rgba(236,30,40,0.33)"/>
<rect x="444.00" y="617.30" width="4" height="10.40" fill="rgba(236,30,40,0.33)"/>
</g>
<line x1="56.50" y1="269.30" x2="331.50" y2="13.00" stroke="#111" stroke-width="0.9"/>
<line x1="56.50" y1="0.00" x2="56.50" y2="269.80" stroke="#000" stroke-width="1"/>
<line x1="56.00" y1="269.30" x2="345.00" y2="269.30" stroke="#000" stroke-width="1"/>
<line x1="56.50" y1="269.30" x2="56.50" y2="274.80" stroke="#000" stroke-width="1"/>
<line x1="51.00" y1="269.30" x2="56.50" y2="269.30" stroke="#000" stroke-width="1"/>
<line x1="111.50" y1="269.30" x2="111.50" y2="274.80" stroke="#000" stroke-width="1"/>
<line x1="51.00" y1="218.04" x2="56.50" y2="218.04" stroke="#000" stroke-width="1"/>
<line x1="166.50" y1="269.30" x2="166.50" y2="274.80" stroke="#000" stroke-width="1"/>
<line x1="51.00" y1="166.78" x2="56.50" y2="166.78" stroke="#000" stroke-width="1"/>
<line x1="221.50" y1="269.30" x2="221.50" y2="274.80" stroke="#000" stroke-width="1"/>
<line x1="51.00" y1="115.52" x2="56.50" y2="115.52" stroke="#000" stroke-width="1"/>
<line x1="276.50" y1="269.30" x2="276.50" y2="274.80" stroke="#000" stroke-width="1"/>
<line x1="51.00" y1="64.26" x2="56.50" y2="64.26" stroke="#000" stroke-width="1"/>
<line x1="331.50" y1="269.30" x2="331.50" y2="274.80" stroke="#000" stroke-width="1"/>
<line x1="51.00" y1="13.00" x2="56.50" y2="13.00" stroke="#000" stroke-width="1"/>
<line x1="454.40" y1="269.20" x2="729.00" y2="13.20" stroke="#111" stroke-width="0.9"/>
<line x1="454.40" y1="0.00" x2="454.40" y2="269.70" stroke="#000" stroke-width="1"/>
<line x1="453.90" y1="269.20" x2="743.00" y2="269.20" stroke="#000" stroke-width="1"/>
<line x1="454.40" y1="269.20" x2="454.40" y2="274.70" stroke="#000" stroke-width="1"/>
<line x1="448.90" y1="269.20" x2="454.40" y2="269.20" stroke="#000" stroke-width="1"/>
<line x1="509.32" y1="269.20" x2="509.32" y2="274.70" stroke="#000" stroke-width="1"/>
<line x1="448.90" y1="218.00" x2="454.40" y2="218.00" stroke="#000" stroke-width="1"/>
<line x1="564.24" y1="269.20" x2="564.24" y2="274.70" stroke="#000" stroke-width="1"/>
<line x1="448.90" y1="166.80" x2="454.40" y2="166.80" stroke="#000" stroke-width="1"/>
<line x1="619.16" y1="269.20" x2="619.16" y2="274.70" stroke="#000" stroke-width="1"/>
<line x1="448.90" y1="115.60" x2="454.40" y2="115.60" stroke="#000" stroke-width="1"/>
<line x1="674.08" y1="269.20" x2="674.08" y2="274.70" stroke="#000" stroke-width="1"/>
<line x1="448.90" y1="64.40" x2="454.40" y2="64.40" stroke="#000" stroke-width="1"/>
<line x1="729.00" y1="269.20" x2="729.00" y2="274.70" stroke="#000" stroke-width="1"/>
<line x1="448.90" y1="13.20" x2="454.40" y2="13.20" stroke="#000" stroke-width="1"/>
<line x1="46.00" y1="658.00" x2="335.05" y2="397.60" stroke="#111" stroke-width="0.9"/>
<line x1="46.00" y1="388.90" x2="46.00" y2="658.50" stroke="#000" stroke-width="1"/>
<line x1="45.50" y1="658.00" x2="345.10" y2="658.00" stroke="#000" stroke-width="1"/>
<line x1="46.00" y1="658.00" x2="46.00" y2="663.50" stroke="#000" stroke-width="1"/>
<line x1="40.50" y1="658.00" x2="46.00" y2="658.00" stroke="#000" stroke-width="1"/>
<line x1="142.35" y1="658.00" x2="142.35" y2="663.50" stroke="#000" stroke-width="1"/>
<line x1="40.50" y1="571.20" x2="46.00" y2="571.20" stroke="#000" stroke-width="1"/>
<line x1="238.70" y1="658.00" x2="238.70" y2="663.50" stroke="#000" stroke-width="1"/>
<line x1="40.50" y1="484.40" x2="46.00" y2="484.40" stroke="#000" stroke-width="1"/>
<line x1="335.05" y1="658.00" x2="335.05" y2="663.50" stroke="#000" stroke-width="1"/>
<line x1="40.50" y1="397.60" x2="46.00" y2="397.60" stroke="#000" stroke-width="1"/>
<line x1="443.60" y1="658.00" x2="732.80" y2="398.05" stroke="#111" stroke-width="0.9"/>
<line x1="443.60" y1="389.00" x2="443.60" y2="658.50" stroke="#000" stroke-width="1"/>
<line x1="443.10" y1="658.00" x2="743.00" y2="658.00" stroke="#000" stroke-width="1"/>
<line x1="443.60" y1="658.00" x2="443.60" y2="663.50" stroke="#000" stroke-width="1"/>
<line x1="438.10" y1="658.00" x2="443.60" y2="658.00" stroke="#000" stroke-width="1"/>
<line x1="540.00" y1="658.00" x2="540.00" y2="663.50" stroke="#000" stroke-width="1"/>
<line x1="438.10" y1="571.35" x2="443.60" y2="571.35" stroke="#000" stroke-width="1"/>
<line x1="636.40" y1="658.00" x2="636.40" y2="663.50" stroke="#000" stroke-width="1"/>
<line x1="438.10" y1="484.70" x2="443.60" y2="484.70" stroke="#000" stroke-width="1"/>
<line x1="732.80" y1="658.00" x2="732.80" y2="663.50" stroke="#000" stroke-width="1"/>
<line x1="438.10" y1="398.05" x2="443.60" y2="398.05" stroke="#000" stroke-width="1"/>
<g fill="#000">
<circle cx="298.00" cy="40.80" r="1.5"/>
<circle cx="253.30" cy="65.80" r="1.5"/>
<circle cx="219.00" cy="99.50" r="1.5"/>
<circle cx="183.80" cy="146.80" r="1.5"/>
<circle cx="199.70" cy="154.40" r="1.5"/>
<circle cx="157.00" cy="169.20" r="1.5"/>
<circle cx="150.00" cy="177.60" r="1.5"/>
<circle cx="146.00" cy="184.60" r="1.5"/>
<circle cx="143.20" cy="193.90" r="1.5"/>
<circle cx="129.50" cy="198.80" r="1.5"/>
<circle cx="130.80" cy="200.20" r="1.5"/>
<circle cx="130.20" cy="205.40" r="1.5"/>
<circle cx="123.50" cy="205.40" r="1.5"/>
<circle cx="124.30" cy="210.40" r="1.5"/>
<circle cx="118.40" cy="207.40" r="1.5"/>
<circle cx="115.10" cy="212.40" r="1.5"/>
<circle cx="105.10" cy="218.40" r="1.5"/>
<circle cx="105.50" cy="221.70" r="1.5"/>
<circle cx="108.80" cy="223.80" r="1.5"/>
<circle cx="76.70" cy="241.90" r="1.5"/>
<circle cx="81.80" cy="237.20" r="1.5"/>
<circle cx="93.00" cy="229.40" r="1.5"/>
<circle cx="99.80" cy="229.00" r="1.5"/>
<circle cx="98.80" cy="230.70" r="1.5"/>
<circle cx="97.70" cy="232.40" r="1.5"/>
<circle cx="96.70" cy="233.70" r="1.5"/>
<circle cx="95.70" cy="235.10" r="1.5"/>
<circle cx="94.70" cy="235.80" r="1.5"/>
<circle cx="89.00" cy="235.10" r="1.5"/>
<circle cx="88.30" cy="236.80" r="1.5"/>
<circle cx="89.70" cy="238.10" r="1.5"/>
<circle cx="91.30" cy="238.80" r="1.5"/>
<circle cx="90.70" cy="241.20" r="1.5"/>
<circle cx="87.60" cy="241.80" r="1.5"/>
<circle cx="86.30" cy="243.20" r="1.5"/>
<circle cx="85.30" cy="241.20" r="1.5"/>
<circle cx="79.60" cy="243.20" r="1.5"/>
<circle cx="78.90" cy="245.20" r="1.5"/>
<circle cx="83.60" cy="246.20" r="1.5"/>
<circle cx="82.30" cy="247.20" r="1.5"/>
<circle cx="80.20" cy="250.60" r="1.5"/>
<circle cx="80.60" cy="249.20" r="1.5"/>
<circle cx="76.20" cy="247.20" r="1.5"/>
<circle cx="76.90" cy="249.90" r="1.5"/>
<circle cx="74.90" cy="250.60" r="1.5"/>
<circle cx="73.50" cy="252.60" r="1.5"/>
<circle cx="72.20" cy="253.90" r="1.5"/>
<circle cx="70.80" cy="256.00" r="1.5"/>
<circle cx="69.50" cy="256.60" r="1.5"/>
<circle cx="68.10" cy="258.00" r="1.5"/>
<circle cx="66.40" cy="259.30" r="1.5"/>
<circle cx="65.10" cy="260.00" r="1.5"/>
<circle cx="63.40" cy="261.30" r="1.5"/>
<circle cx="62.10" cy="262.70" r="1.5"/>
<circle cx="60.70" cy="264.00" r="1.5"/>
<circle cx="59.40" cy="265.40" r="1.5"/>
<circle cx="58.40" cy="266.70" r="1.5"/>
<circle cx="57.70" cy="268.10" r="1.5"/>
<circle cx="67.50" cy="256.60" r="1.5"/>
<circle cx="66.10" cy="258.00" r="1.5"/>
<circle cx="64.80" cy="258.60" r="1.5"/>
<circle cx="69.50" cy="254.60" r="1.5"/>
<circle cx="71.50" cy="253.30" r="1.5"/>
<circle cx="62.10" cy="260.70" r="1.5"/>
<circle cx="60.70" cy="262.70" r="1.5"/>
<circle cx="63.40" cy="259.30" r="1.5"/>
<circle cx="73.00" cy="251.00" r="1.5"/>
<circle cx="75.50" cy="249.00" r="1.5"/>
<circle cx="77.80" cy="247.50" r="1.5"/>
<circle cx="81.00" cy="245.00" r="1.5"/>
<circle cx="84.50" cy="244.00" r="1.5"/>
<circle cx="101.50" cy="227.50" r="1.5"/>
<circle cx="100.70" cy="228.30" r="1.5"/>
<circle cx="597.30" cy="24.80" r="1.5"/>
<circle cx="650.80" cy="50.80" r="1.5"/>
<circle cx="581.10" cy="69.30" r="1.5"/>
<circle cx="543.60" cy="36.70" r="1.5"/>
<circle cx="486.90" cy="37.40" r="1.5"/>
<circle cx="460.30" cy="46.40" r="1.5"/>
<circle cx="477.10" cy="76.40" r="1.5"/>
<circle cx="520.90" cy="79.80" r="1.5"/>
<circle cx="527.70" cy="78.70" r="1.5"/>
<circle cx="547.40" cy="119.70" r="1.5"/>
<circle cx="554.80" cy="126.80" r="1.5"/>
<circle cx="540.90" cy="157.40" r="1.5"/>
<circle cx="521.50" cy="154.80" r="1.5"/>
<circle cx="526.00" cy="156.10" r="1.5"/>
<circle cx="528.30" cy="156.10" r="1.5"/>
<circle cx="495.90" cy="87.70" r="1.5"/>
<circle cx="495.10" cy="107.70" r="1.5"/>
<circle cx="502.60" cy="87.70" r="1.5"/>
<circle cx="502.60" cy="93.30" r="1.5"/>
<circle cx="512.30" cy="100.10" r="1.5"/>
<circle cx="515.90" cy="108.50" r="1.5"/>
<circle cx="520.60" cy="106.00" r="1.5"/>
<circle cx="458.50" cy="97.80" r="1.5"/>
<circle cx="462.80" cy="91.60" r="1.5"/>
<circle cx="464.10" cy="99.30" r="1.5"/>
<circle cx="464.50" cy="118.90" r="1.5"/>
<circle cx="469.80" cy="115.30" r="1.5"/>
<circle cx="481.00" cy="97.30" r="1.5"/>
<circle cx="486.10" cy="108.30" r="1.5"/>
<circle cx="493.20" cy="122.90" r="1.5"/>
<circle cx="496.50" cy="132.50" r="1.5"/>
<circle cx="473.70" cy="132.00" r="1.5"/>
<circle cx="479.40" cy="137.90" r="1.5"/>
<circle cx="506.50" cy="139.50" r="1.5"/>
<circle cx="497.30" cy="160.10" r="1.5"/>
<circle cx="488.30" cy="173.40" r="1.5"/>
<circle cx="496.50" cy="185.20" r="1.5"/>
<circle cx="476.60" cy="185.20" r="1.5"/>
<circle cx="476.50" cy="191.90" r="1.5"/>
<circle cx="483.00" cy="192.50" r="1.5"/>
<circle cx="471.80" cy="195.00" r="1.5"/>
<circle cx="472.20" cy="200.90" r="1.5"/>
<circle cx="484.40" cy="206.60" r="1.5"/>
<circle cx="477.90" cy="209.20" r="1.5"/>
<circle cx="469.80" cy="218.60" r="1.5"/>
<circle cx="466.90" cy="233.20" r="1.5"/>
<circle cx="459.00" cy="134.40" r="1.5"/>
<circle cx="459.00" cy="139.50" r="1.5"/>
<circle cx="464.60" cy="143.10" r="1.5"/>
<circle cx="456.30" cy="145.10" r="1.5"/>
<circle cx="474.30" cy="145.80" r="1.5"/>
<circle cx="472.10" cy="147.40" r="1.5"/>
<circle cx="483.00" cy="148.00" r="1.5"/>
<circle cx="485.80" cy="150.00" r="1.5"/>
<circle cx="493.40" cy="149.10" r="1.5"/>
<circle cx="490.60" cy="153.10" r="1.5"/>
<circle cx="462.70" cy="151.40" r="1.5"/>
<circle cx="468.10" cy="151.90" r="1.5"/>
<circle cx="454.80" cy="153.10" r="1.5"/>
<circle cx="461.30" cy="155.90" r="1.5"/>
<circle cx="470.60" cy="156.20" r="1.5"/>
<circle cx="470.90" cy="157.60" r="1.5"/>
<circle cx="477.90" cy="155.90" r="1.5"/>
<circle cx="462.70" cy="159.00" r="1.5"/>
<circle cx="463.80" cy="159.50" r="1.5"/>
<circle cx="470.00" cy="159.80" r="1.5"/>
<circle cx="476.50" cy="159.30" r="1.5"/>
<circle cx="475.40" cy="160.40" r="1.5"/>
<circle cx="477.10" cy="161.50" r="1.5"/>
<circle cx="481.00" cy="159.00" r="1.5"/>
<circle cx="468.60" cy="162.60" r="1.5"/>
<circle cx="456.80" cy="162.10" r="1.5"/>
<circle cx="459.10" cy="163.50" r="1.5"/>
<circle cx="474.50" cy="163.80" r="1.5"/>
<circle cx="476.50" cy="162.90" r="1.5"/>
<circle cx="488.90" cy="165.20" r="1.5"/>
<circle cx="463.30" cy="167.10" r="1.5"/>
<circle cx="475.40" cy="169.10" r="1.5"/>
<circle cx="461.30" cy="172.30" r="1.5"/>
<circle cx="463.60" cy="173.90" r="1.5"/>
<circle cx="465.80" cy="174.70" r="1.5"/>
<circle cx="467.50" cy="179.60" r="1.5"/>
<circle cx="458.70" cy="184.60" r="1.5"/>
<circle cx="458.70" cy="186.90" r="1.5"/>
<circle cx="466.40" cy="190.80" r="1.5"/>
<circle cx="458.70" cy="199.30" r="1.5"/>
<circle cx="466.90" cy="199.50" r="1.5"/>
<circle cx="463.90" cy="204.30" r="1.5"/>
<circle cx="464.10" cy="208.50" r="1.5"/>
<circle cx="456.80" cy="207.10" r="1.5"/>
<circle cx="458.50" cy="209.90" r="1.5"/>
<circle cx="456.50" cy="212.20" r="1.5"/>
<circle cx="467.30" cy="211.10" r="1.5"/>
<circle cx="468.10" cy="215.20" r="1.5"/>
<circle cx="460.80" cy="218.60" r="1.5"/>
<circle cx="459.40" cy="219.50" r="1.5"/>
<circle cx="461.90" cy="226.30" r="1.5"/>
<circle cx="459.90" cy="227.60" r="1.5"/>
<circle cx="220.60" cy="463.70" r="1.5"/>
<circle cx="230.90" cy="453.40" r="1.5"/>
<circle cx="334.70" cy="418.30" r="1.5"/>
<circle cx="178.10" cy="535.90" r="1.5"/>
<circle cx="193.80" cy="546.00" r="1.5"/>
<circle cx="168.80" cy="560.20" r="1.5"/>
<circle cx="155.40" cy="556.70" r="1.5"/>
<circle cx="147.60" cy="557.00" r="1.5"/>
<circle cx="140.10" cy="569.30" r="1.5"/>
<circle cx="133.80" cy="571.30" r="1.5"/>
<circle cx="122.10" cy="589.70" r="1.5"/>
<circle cx="126.30" cy="592.80" r="1.5"/>
<circle cx="116.30" cy="588.70" r="1.5"/>
<circle cx="121.90" cy="589.80" r="1.5"/>
<circle cx="126.60" cy="592.90" r="1.5"/>
<circle cx="114.60" cy="598.30" r="1.5"/>
<circle cx="119.10" cy="596.90" r="1.5"/>
<circle cx="101.90" cy="601.60" r="1.5"/>
<circle cx="107.80" cy="600.30" r="1.5"/>
<circle cx="104.40" cy="606.40" r="1.5"/>
<circle cx="100.00" cy="612.00" r="1.5"/>
<circle cx="92.90" cy="615.70" r="1.5"/>
<circle cx="89.00" cy="621.30" r="1.5"/>
<circle cx="72.10" cy="625.60" r="1.5"/>
<circle cx="65.80" cy="636.50" r="1.5"/>
<circle cx="83.10" cy="619.40" r="1.5"/>
<circle cx="84.80" cy="621.90" r="1.5"/>
<circle cx="79.10" cy="625.30" r="1.5"/>
<circle cx="79.70" cy="627.50" r="1.5"/>
<circle cx="80.80" cy="629.80" r="1.5"/>
<circle cx="83.60" cy="627.50" r="1.5"/>
<circle cx="78.60" cy="626.40" r="1.5"/>
<circle cx="71.30" cy="632.00" r="1.5"/>
<circle cx="74.40" cy="632.90" r="1.5"/>
<circle cx="64.50" cy="634.80" r="1.5"/>
<circle cx="66.80" cy="636.50" r="1.5"/>
<circle cx="69.00" cy="637.60" r="1.5"/>
<circle cx="70.70" cy="636.00" r="1.5"/>
<circle cx="70.70" cy="639.50" r="1.5"/>
<circle cx="69.30" cy="641.00" r="1.5"/>
<circle cx="47.00" cy="656.50" r="1.5"/>
<circle cx="48.50" cy="655.00" r="1.5"/>
<circle cx="50.00" cy="653.50" r="1.5"/>
<circle cx="51.50" cy="652.00" r="1.5"/>
<circle cx="53.00" cy="650.20" r="1.5"/>
<circle cx="54.50" cy="648.70" r="1.5"/>
<circle cx="56.00" cy="647.30" r="1.5"/>
<circle cx="57.50" cy="645.80" r="1.5"/>
<circle cx="59.00" cy="644.50" r="1.5"/>
<circle cx="60.50" cy="643.00" r="1.5"/>
<circle cx="62.00" cy="641.50" r="1.5"/>
<circle cx="63.50" cy="640.00" r="1.5"/>
<circle cx="65.00" cy="638.50" r="1.5"/>
<circle cx="66.50" cy="637.80" r="1.5"/>
<circle cx="68.00" cy="635.50" r="1.5"/>
<circle cx="49.00" cy="656.00" r="1.5"/>
<circle cx="52.00" cy="653.00" r="1.5"/>
<circle cx="55.00" cy="650.00" r="1.5"/>
<circle cx="58.00" cy="647.00" r="1.5"/>
<circle cx="61.00" cy="644.50" r="1.5"/>
<circle cx="75.50" cy="630.50" r="1.5"/>
<circle cx="77.00" cy="628.80" r="1.5"/>
<circle cx="47.90" cy="658.00" r="1.5"/>
<circle cx="49.00" cy="653.70" r="1.5"/>
<circle cx="51.50" cy="654.80" r="1.5"/>
<circle cx="52.60" cy="650.50" r="1.5"/>
<circle cx="55.10" cy="651.60" r="1.5"/>
<circle cx="56.20" cy="647.20" r="1.5"/>
<circle cx="58.70" cy="648.30" r="1.5"/>
<circle cx="59.80" cy="644.00" r="1.5"/>
<circle cx="62.30" cy="645.10" r="1.5"/>
<circle cx="63.40" cy="640.80" r="1.5"/>
<circle cx="65.90" cy="641.80" r="1.5"/>
<circle cx="618.40" cy="445.10" r="1.5"/>
<circle cx="628.70" cy="488.10" r="1.5"/>
<circle cx="731.90" cy="420.70" r="1.5"/>
<circle cx="576.00" cy="528.50" r="1.5"/>
<circle cx="591.70" cy="541.40" r="1.5"/>
<circle cx="552.90" cy="548.70" r="1.5"/>
<circle cx="566.50" cy="568.10" r="1.5"/>
<circle cx="545.00" cy="569.60" r="1.5"/>
<circle cx="531.40" cy="571.20" r="1.5"/>
<circle cx="520.00" cy="570.90" r="1.5"/>
<circle cx="537.70" cy="585.70" r="1.5"/>
<circle cx="524.20" cy="598.80" r="1.5"/>
<circle cx="516.90" cy="596.70" r="1.5"/>
<circle cx="512.00" cy="580.80" r="1.5"/>
<circle cx="514.10" cy="582.70" r="1.5"/>
<circle cx="505.20" cy="584.70" r="1.5"/>
<circle cx="501.70" cy="593.40" r="1.5"/>
<circle cx="499.30" cy="584.50" r="1.5"/>
<circle cx="482.40" cy="585.60" r="1.5"/>
<circle cx="480.20" cy="593.60" r="1.5"/>
<circle cx="451.40" cy="600.50" r="1.5"/>
<circle cx="497.60" cy="604.00" r="1.5"/>
<circle cx="490.60" cy="615.30" r="1.5"/>
<circle cx="486.80" cy="608.90" r="1.5"/>
<circle cx="462.20" cy="607.40" r="1.5"/>
<circle cx="477.00" cy="603.70" r="1.5"/>
<circle cx="480.90" cy="604.00" r="1.5"/>
<circle cx="479.60" cy="608.60" r="1.5"/>
<circle cx="482.40" cy="612.80" r="1.5"/>
<circle cx="477.50" cy="613.30" r="1.5"/>
<circle cx="476.00" cy="614.80" r="1.5"/>
<circle cx="477.70" cy="622.40" r="1.5"/>
<circle cx="469.10" cy="611.20" r="1.5"/>
<circle cx="469.60" cy="614.80" r="1.5"/>
<circle cx="450.90" cy="613.30" r="1.5"/>
<circle cx="447.90" cy="615.30" r="1.5"/>
<circle cx="449.90" cy="616.30" r="1.5"/>
<circle cx="449.40" cy="619.70" r="1.5"/>
<circle cx="459.70" cy="614.80" r="1.5"/>
<circle cx="457.60" cy="616.80" r="1.5"/>
<circle cx="463.70" cy="620.70" r="1.5"/>
<circle cx="461.20" cy="623.20" r="1.5"/>
<circle cx="464.70" cy="624.00" r="1.5"/>
<circle cx="471.80" cy="620.70" r="1.5"/>
<circle cx="472.00" cy="625.10" r="1.5"/>
<circle cx="469.10" cy="626.60" r="1.5"/>
<circle cx="468.30" cy="627.90" r="1.5"/>
<circle cx="467.90" cy="630.80" r="1.5"/>
<circle cx="469.10" cy="631.30" r="1.5"/>
<circle cx="446.90" cy="625.60" r="1.5"/>
<circle cx="445.50" cy="628.10" r="1.5"/>
<circle cx="449.70" cy="624.90" r="1.5"/>
<circle cx="447.20" cy="626.20" r="1.5"/>
<circle cx="445.10" cy="627.90" r="1.5"/>
<circle cx="456.00" cy="625.50" r="1.5"/>
<circle cx="457.70" cy="627.00" r="1.5"/>
<circle cx="459.40" cy="628.30" r="1.5"/>
<circle cx="455.20" cy="629.20" r="1.5"/>
<circle cx="456.90" cy="630.40" r="1.5"/>
<circle cx="453.90" cy="630.80" r="1.5"/>
<circle cx="460.30" cy="632.00" r="1.5"/>
<circle cx="459.00" cy="633.00" r="1.5"/>
<circle cx="452.70" cy="632.10" r="1.5"/>
<circle cx="451.00" cy="633.40" r="1.5"/>
<circle cx="448.40" cy="632.50" r="1.5"/>
<circle cx="446.80" cy="632.10" r="1.5"/>
<circle cx="448.00" cy="634.60" r="1.5"/>
<circle cx="447.20" cy="635.50" r="1.5"/>
<circle cx="450.10" cy="635.00" r="1.5"/>
<circle cx="454.80" cy="636.30" r="1.5"/>
<circle cx="457.70" cy="637.20" r="1.5"/>
<circle cx="456.40" cy="637.60" r="1.5"/>
<circle cx="452.20" cy="638.90" r="1.5"/>
<circle cx="447.60" cy="640.50" r="1.5"/>
<circle cx="445.10" cy="643.10" r="1.5"/>
<circle cx="446.80" cy="643.90" r="1.5"/>
<circle cx="448.40" cy="644.80" r="1.5"/>
<circle cx="450.10" cy="646.00" r="1.5"/>
<circle cx="451.80" cy="642.70" r="1.5"/>
<circle cx="462.50" cy="628.00" r="1.5"/>
<circle cx="465.00" cy="626.50" r="1.5"/>
<circle cx="445.50" cy="631.00" r="1.5"/>
<circle cx="446.50" cy="629.50" r="1.5"/>
<circle cx="453.50" cy="627.00" r="1.5"/>
<circle cx="455.00" cy="633.50" r="1.5"/>
<circle cx="458.00" cy="631.00" r="1.5"/>
<circle cx="461.00" cy="630.50" r="1.5"/>
<circle cx="462.50" cy="633.50" r="1.5"/>
<circle cx="449.00" cy="630.00" r="1.5"/>
<circle cx="450.50" cy="628.00" r="1.5"/>
<circle cx="452.50" cy="635.50" r="1.5"/>
<circle cx="449.50" cy="637.80" r="1.5"/>
<circle cx="446.00" cy="638.00" r="1.5"/>
<circle cx="444.80" cy="640.20" r="1.5"/>
<circle cx="447.50" cy="642.00" r="1.5"/>
<circle cx="449.50" cy="641.50" r="1.5"/>
<circle cx="452.00" cy="645.00" r="1.5"/>
<circle cx="448.20" cy="647.30" r="1.5"/>
<circle cx="455.50" cy="640.00" r="1.5"/>
<circle cx="458.50" cy="635.50" r="1.5"/>
<circle cx="444.80" cy="624.50" r="1.5"/>
<circle cx="446.00" cy="622.50" r="1.5"/>
</g>
<g font-family="Liberation Sans, sans-serif" font-size="19" fill="#000">
<text x="56.50" y="294.30" text-anchor="middle">0</text>
<text x="45.70" y="276.30" text-anchor="end">0</text>
<text x="111.50" y="294.30" text-anchor="middle">2</text>
<text x="45.70" y="225.04" text-anchor="end">2</text>
<text x="166.50" y="294.30" text-anchor="middle">4</text>
<text x="45.70" y="173.78" text-anchor="end">4</text>
<text x="221.50" y="294.30" text-anchor="middle">6</text>
<text x="45.70" y="122.52" text-anchor="end">6</text>
<text x="276.50" y="294.30" text-anchor="middle">8</text>
<text x="45.70" y="71.26" text-anchor="end">8</text>
<text x="331.50" y="294.30" text-anchor="middle">10</text>
<text x="45.70" y="20.00" text-anchor="end">10</text>
<text x="200.75" y="318.00" text-anchor="middle">True tree length</text>
<text transform="translate(13.50,134.74) rotate(-90)" text-anchor="middle">Estimated tree length</text>
<text x="454.40" y="294.20" text-anchor="middle">0</text>
<text x="443.60" y="276.20" text-anchor="end">0</text>
<text x="509.32" y="294.20" text-anchor="middle">2</text>
<text x="443.60" y="225.00" text-anchor="end">2</text>
<text x="564.24" y="294.20" text-anchor="middle">4</text>
<text x="443.60" y="173.80" text-anchor="end">4</text>
<text x="619.16" y="294.20" text-anchor="middle">6</text>
<text x="443.60" y="122.60" text-anchor="end">6</text>
<text x="674.08" y="294.20" text-anchor="middle">8</text>
<text x="443.60" y="71.40" text-anchor="end">8</text>
<text x="729.00" y="294.20" text-anchor="middle">10</text>
<text x="443.60" y="20.20" text-anchor="end">10</text>
<text x="598.57" y="317.90" text-anchor="middle">True tree length</text>
<text transform="translate(411.50,134.80) rotate(-90)" text-anchor="middle">Estimated tree length</text>
<text x="46.00" y="683.00" text-anchor="middle">0</text>
<text x="35.20" y="665.00" text-anchor="end">0</text>
<text x="142.35" y="683.00" text-anchor="middle">1</text>
<text x="35.20" y="578.20" text-anchor="end">1</text>
<text x="238.70" y="683.00" text-anchor="middle">2</text>
<text x="35.20" y="491.40" text-anchor="end">2</text>
<text x="335.05" y="683.00" text-anchor="middle">3</text>
<text x="35.20" y="404.60" text-anchor="end">3</text>
<text x="195.55" y="706.70" text-anchor="middle">True tree height</text>
<text transform="translate(13.70,523.45) rotate(-90)" text-anchor="middle">Estimated tree height</text>
<text x="443.60" y="683.00" text-anchor="middle">0</text>
<text x="432.80" y="665.00" text-anchor="end">0</text>
<text x="540.00" y="683.00" text-anchor="middle">1</text>
<text x="432.80" y="578.35" text-anchor="end">1</text>
<text x="636.40" y="683.00" text-anchor="middle">2</text>
<text x="432.80" y="491.70" text-anchor="end">2</text>
<text x="732.80" y="683.00" text-anchor="middle">3</text>
<text x="432.80" y="405.05" text-anchor="end">3</text>
<text x="595.43" y="706.70" text-anchor="middle">True tree height</text>
<text transform="translate(411.50,523.50) rotate(-90)" text-anchor="middle">Estimated tree height</text>
</g>
</svg>
</body></html>
